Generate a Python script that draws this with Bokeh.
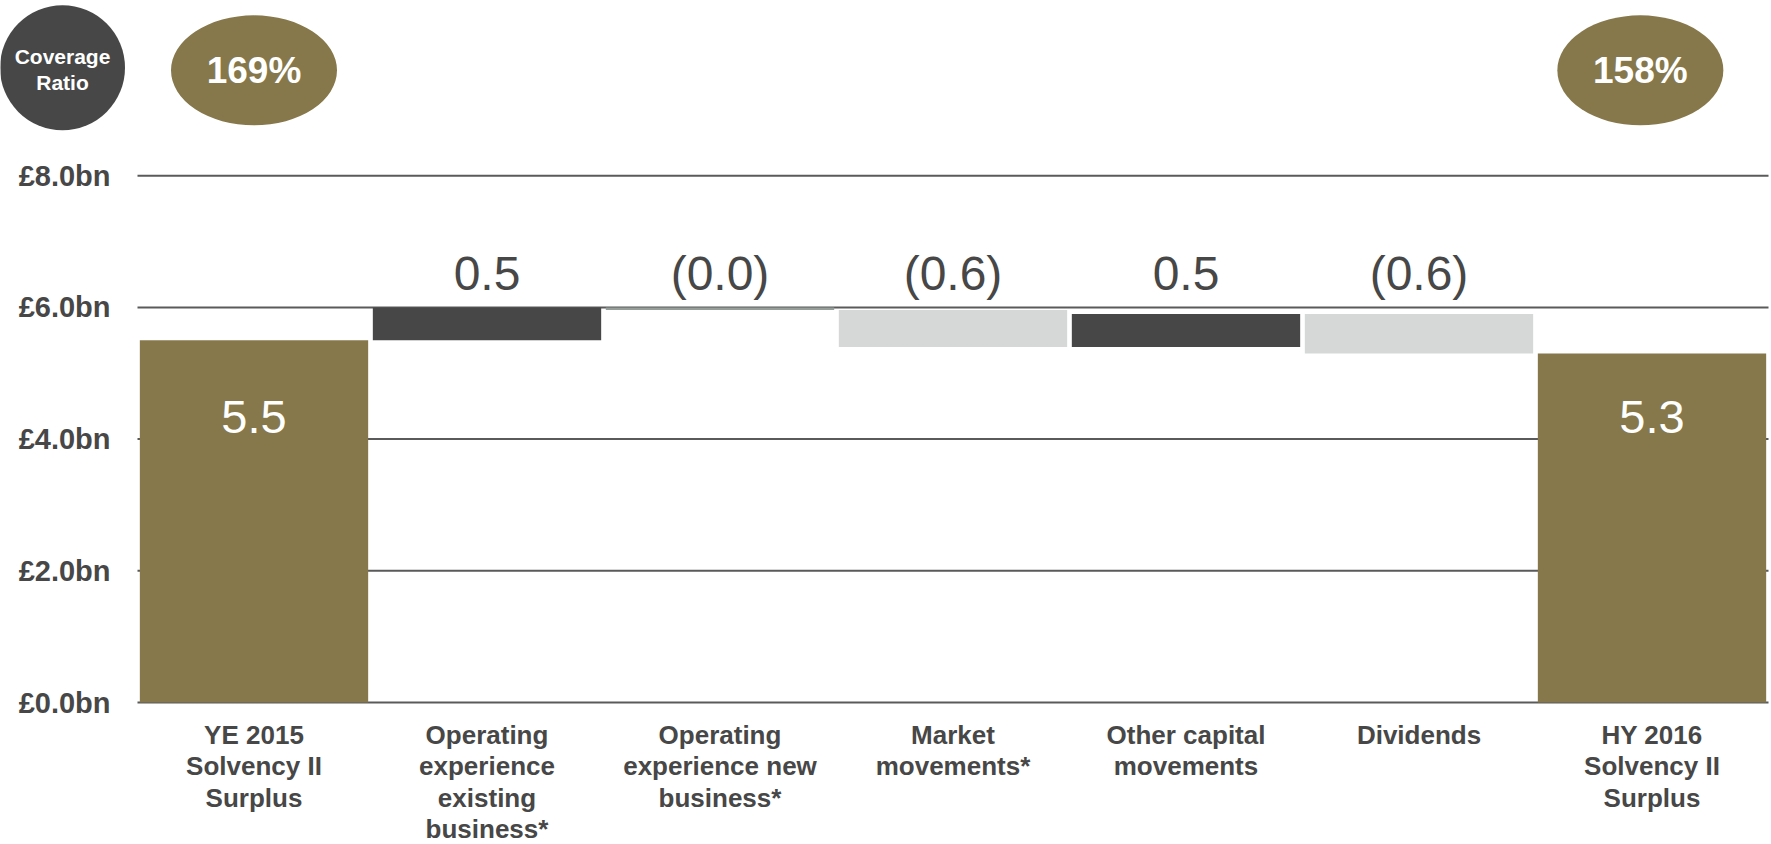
from bokeh.plotting import figure
from bokeh.models import Range1d, ColumnDataSource
from bokeh.embed import file_html
from bokeh.resources import INLINE
from bokeh.core.properties import value

# --- data (£bn) ---
categories = [
    "YE 2015\nSolvency II\nSurplus",
    "Operating\nexperience\nexisting\nbusiness*",
    "Operating\nexperience new\nbusiness*",
    "Market\nmovements*",
    "Other capital\nmovements",
    "Dividends",
    "HY 2016\nSolvency II\nSurplus",
]
opening_surplus = 5.5
movements = [0.5, -0.04, -0.56, 0.5, -0.6]
coverage_ratios = [169, 158]
y_ticks = [0, 2, 4, 6, 8]

# --- styles ---
OLIVE = "#86784A"
DARK = "#474747"
LIGHT = "#D6D8D8"
FLAT = "#969E9A"
TEXT = "#474747"
GRID = "#5A5A5A"
FONT = "Liberation Sans"

# --- layout (pixels per unit on each scale, margins around the plotting band) ---
W, H = 1771, 844
PX_PER_CAT = 233.0
PX_PER_BN = 65.85
LEFT_PAD, RIGHT_PAD = 137, 3
BASELINE_PX = 702  # distance from the top of the canvas to the £0 line


def fmt(v):
    s = f"{abs(v):.1f}"
    return f"({s})" if v < 0 else s


# waterfall geometry
n = len(categories)
xs = [i + 0.5 for i in range(n)]
closing_surplus = round(opening_surplus + sum(movements), 2)
bottoms, tops, colors = [0.0], [opening_surplus], [OLIVE]
level = opening_surplus
for m in movements:
    new_level = level + m
    bottoms.append(min(level, new_level))
    tops.append(max(level, new_level))
    if abs(m) < 0.05:
        colors.append(FLAT)
    else:
        colors.append(DARK if m > 0 else LIGHT)
    level = new_level
bottoms.append(0.0)
tops.append(closing_surplus)
colors.append(OLIVE)

bars = ColumnDataSource(dict(x=xs, bottom=bottoms, top=tops, color=colors))

x_range = Range1d(-LEFT_PAD / PX_PER_CAT, n + RIGHT_PAD / PX_PER_CAT)
y_range = Range1d(-(H - BASELINE_PX) / PX_PER_BN, BASELINE_PX / PX_PER_BN)

p = figure(
    width=W, height=H, x_range=x_range, y_range=y_range,
    x_axis_location=None, y_axis_location=None,
    output_backend="svg", toolbar_location=None,
    min_border_left=0, min_border_right=0, min_border_top=0, min_border_bottom=0,
)
p.outline_line_color = None
p.grid.visible = False
p.background_fill_color = "white"
p.border_fill_color = "white"

# horizontal gridlines across the category band
p.segment(x0=[0] * len(y_ticks), x1=[n] * len(y_ticks), y0=y_ticks, y1=y_ticks,
          line_color=GRID, line_width=2)

# y tick labels
p.text(x=[0] * len(y_ticks), y=y_ticks, text=[f"£{t:.1f}bn" for t in y_ticks],
       x_offset=-27, text_font=value(FONT), text_font_style="bold", text_font_size="29px",
       text_color=TEXT, text_align="right", text_baseline="middle")

# category labels under the £0 line
p.text(x=xs, y=[0] * n, text=categories, y_offset=17,
       text_font=value(FONT), text_font_style="bold", text_font_size="26px",
       text_color=TEXT, text_align="center", text_baseline="top", text_line_height=1.05)

# bars
p.vbar(x="x", bottom="bottom", top="top", width=0.98, fill_color="color",
       line_color=None, source=bars)

# movement labels above the floating bars
label_level = max(tops[1:-1])
p.text(x=xs[1:-1], y=[label_level] * len(movements), text=[fmt(m) for m in movements],
       y_offset=-34, text_font=value(FONT), text_font_size="48px", text_color=TEXT,
       text_align="center", text_baseline="middle")

# totals inside the end bars
totals = [opening_surplus, closing_surplus]
inside_y = min(totals) * 0.82
p.text(x=[xs[0], xs[-1]], y=[inside_y, inside_y], text=[fmt(t) for t in totals],
       y_offset=1, text_font=value(FONT), text_font_size="47px", text_color="white",
       text_align="center", text_baseline="middle")

# coverage ratio badges above the end bars
BADGE_Y = 9.6
BADGE_NUDGE = [0.0, -0.05]
badge_x = [xs[0] + BADGE_NUDGE[0], xs[-1] + BADGE_NUDGE[1]]
p.ellipse(x=badge_x, y=[BADGE_Y, BADGE_Y], width=166, height=110,
          width_units="screen", height_units="screen", fill_color=OLIVE, line_color=None)
p.text(x=badge_x, y=[BADGE_Y, BADGE_Y], text=[f"{c}%" for c in coverage_ratios],
       text_font=value(FONT), text_font_style="bold", text_font_size="37px",
       text_color="white", text_align="center", text_baseline="middle")

# "Coverage Ratio" key disc in the left margin
KEY_X = -(LEFT_PAD - 62) / PX_PER_CAT
KEY_Y = 9.64
p.scatter(x=[KEY_X], y=[KEY_Y], size=125, marker="circle", fill_color=DARK, line_color=None)
p.text(x=[KEY_X], y=[KEY_Y], text=["Coverage\nRatio"], y_offset=2,
       text_font=value(FONT), text_font_style="bold", text_font_size="21px",
       text_color="white", text_align="center", text_baseline="middle", text_line_height=1.15)

open("out.html", "w").write(file_html(p, INLINE))
